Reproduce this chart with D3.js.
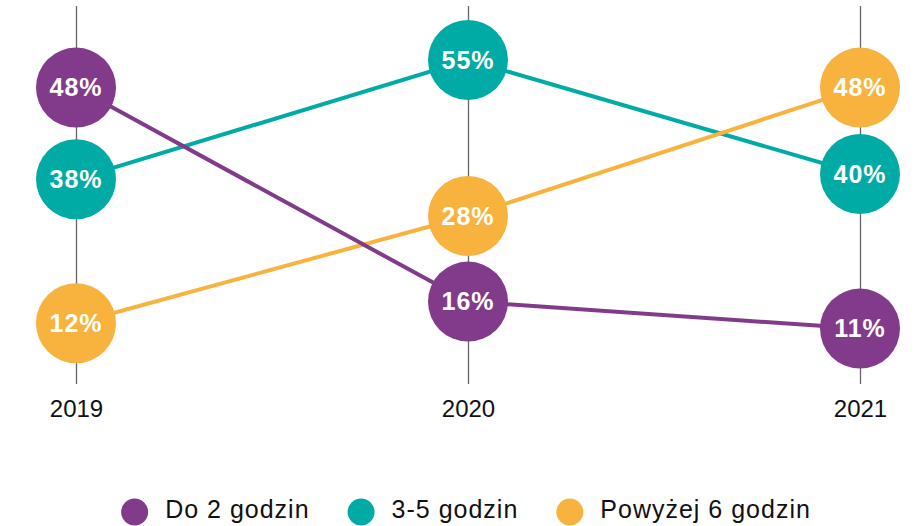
<!DOCTYPE html>
<html>
<head>
<meta charset="utf-8">
<script src="https://cdn.jsdelivr.net/npm/d3@7"></script>
<style>
  html, body { margin: 0; padding: 0; background: #fff; }
  svg { display: block; }
</style>
</head>
<body>
<svg id="chart" width="915" height="526"></svg>
<script>
// ---- data ----
const years = ["2019", "2020", "2021"];
const seriesNames = ["Do 2 godzin", "3-5 godzin", "Powyżej 6 godzin"];
const doDwochGodzin = [48, 16, 11];
const trzyPiecGodzin = [38, 55, 40];
const powyzejSzesciu = [12, 28, 48];
const seriesColors = ["#823B8A", "#00ABA6", "#F8B23E"];

const series = [
  { name: seriesNames[0], values: doDwochGodzin, color: seriesColors[0] },
  { name: seriesNames[1], values: trzyPiecGodzin, color: seriesColors[1] },
  { name: seriesNames[2], values: powyzejSzesciu, color: seriesColors[2] }
];

const svg = d3.select("#chart");
const FONT = "'Liberation Sans', Arial, Helvetica, sans-serif";

const x = d3.scalePoint().domain(years).range([76, 860]);
// piecewise scale (designer spaced the bubbles to avoid overlaps)
const y = d3.scaleLinear()
  .domain([10, 20, 30, 40, 50, 60])
  .range([334, 280, 200, 174, 66, 54]);

const axisY = 384;
const axis = d3.axisBottom(x).tickSize(-(axisY - 6)).tickPadding(16);
const gAxis = svg.append("g")
  .attr("transform", `translate(0,${axisY})`)
  .call(axis);
gAxis.select(".domain").remove();
gAxis.selectAll(".tick line").attr("stroke", "#666").attr("stroke-width", 1.3);
gAxis.selectAll(".tick text")
  .attr("fill", "#111")
  .style("font-family", FONT)
  .style("font-size", "24px");

// lines (teal, orange, purple order)
const line = d3.line()
  .x((d, i) => x(years[i]))
  .y(d => y(d));
const lineOrder = [1, 2, 0];
svg.append("g").selectAll("path")
  .data(lineOrder.map(i => series[i]))
  .join("path")
  .attr("d", d => line(d.values))
  .attr("fill", "none")
  .attr("stroke", d => d.color)
  .attr("stroke-width", 4);

// bubbles
const pts = [];
series.forEach(s => s.values.forEach((v, i) => pts.push({ v, year: years[i], color: s.color })));
const gPts = svg.append("g").selectAll("g")
  .data(pts)
  .join("g")
  .attr("transform", d => `translate(${x(d.year)},${y(d.v)})`);
gPts.append("circle")
  .attr("r", 40)
  .attr("fill", d => d.color);
gPts.append("text")
  .attr("text-anchor", "middle")
  .attr("dy", "0.35em")
  .attr("fill", "#fff")
  .style("font-family", FONT)
  .style("font-weight", "bold")
  .style("font-size", "25px")
  .style("letter-spacing", "1px")
  .text(d => d.v + "%");

// legend
const legend = svg.append("g");
const items = legend.selectAll("g").data(series).join("g");
items.append("circle").attr("r", 13.5).attr("cx", 13.5).attr("cy", 0).attr("fill", d => d.color);
items.append("text")
  .attr("x", 44)
  .attr("y", 6)
  .attr("fill", "#111")
  .style("font-family", FONT)
  .style("font-size", "25px")
  .style("letter-spacing", "1px")
  .text(d => d.name);
let cursor = 0;
const gap = 38;
const widths = [];
items.each(function () {
  const w = 44 + this.querySelector("text").getComputedTextLength();
  widths.push(w);
});
const total = d3.sum(widths) + gap * (widths.length - 1);
const startX = 466 - total / 2;
items.attr("transform", (d, i) => {
  const tx = startX + cursor;
  cursor += widths[i] + gap;
  return `translate(${tx},512)`;
});
</script>
</body>
</html>
